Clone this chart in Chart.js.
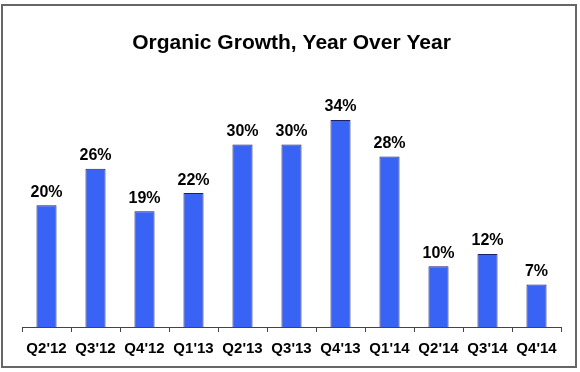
<!DOCTYPE html>
<html>
<head>
<meta charset="utf-8">
<script src="https://cdn.jsdelivr.net/npm/chart.js@4/dist/chart.umd.min.js"></script>
<style>
  html, body { margin: 0; padding: 0; background: #fff; }
  #wrap { position: relative; width: 580px; height: 372px; }
  #frame { position: absolute; left: 1px; top: 4px; width: 572px; height: 360px; border: 2px solid #666; box-sizing: content-box; pointer-events: none; }
</style>
</head>
<body>
<div id="wrap">
  <canvas id="chart" width="580" height="372"></canvas>
  <div id="frame"></div>
</div>
<script>
const quarters = ["Q2'12", "Q3'12", "Q4'12", "Q1'13", "Q2'13", "Q3'13", "Q4'13", "Q1'14", "Q2'14", "Q3'14", "Q4'14"];
const growth = [20, 26, 19, 22, 30, 30, 34, 28, 10, 12, 7];

// etiquetas de porcentaje encima de cada barra
const barLabels = {
  id: 'barLabels',
  afterDatasetsDraw(chart) {
    const ctx = chart.ctx;
    const meta = chart.getDatasetMeta(0);
    ctx.save();
    ctx.font = 'bold 16px Arial, "Liberation Sans", sans-serif';
    ctx.fillStyle = '#000';
    ctx.textAlign = 'center';
    ctx.textBaseline = 'bottom';
    meta.data.forEach((bar, i) => {
      ctx.fillText(growth[i] + '%', bar.x, bar.y - 5);
    });
    ctx.restore();
  }
};

new Chart(document.getElementById('chart').getContext('2d'), {
  type: 'bar',
  data: {
    labels: quarters,
    datasets: [{
      data: growth,
      backgroundColor: '#3863f5',
      borderColor: '#1c1f6b',
      borderWidth: 1,
      categoryPercentage: 1,
      barPercentage: 0.41
    }]
  },
  options: {
    responsive: false,
    animation: false,
    layout: { padding: { left: 22, right: 19, top: 0, bottom: 6 } },
    plugins: {
      legend: { display: false },
      tooltip: { enabled: false },
      title: {
        display: true,
        text: 'Organic Growth, Year Over Year',
        color: '#000',
        font: { family: 'Arial, "Liberation Sans", sans-serif', size: 21, weight: 'bold' },
        padding: { top: 31, bottom: 3 }
      }
    },
    scales: {
      y: { display: false, min: 0, max: 44 },
      x: {
        border: { display: true, color: '#444', width: 1 },
        grid: { display: true, drawOnChartArea: false, tickLength: 5, color: '#444', offset: true },
        ticks: {
          color: '#000',
          padding: 8,
          maxRotation: 0,
          font: { family: 'Arial, "Liberation Sans", sans-serif', size: 15, weight: 'bold' }
        }
      }
    }
  },
  plugins: [barLabels]
});
</script>
</body>
</html>
